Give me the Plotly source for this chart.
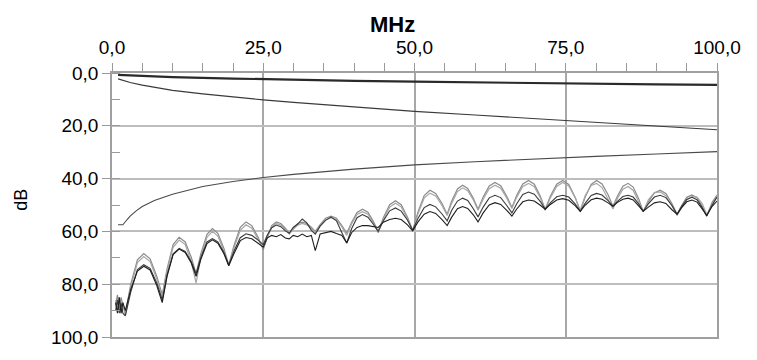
import plotly.graph_objects as go

# ---------------- data ----------------
freq_smooth1 = [1, 5, 10, 20, 30, 40, 50, 60, 70, 80, 90, 100]
loss_top = [0.7, 1.2, 1.6, 2.1, 2.6, 3.0, 3.3, 3.6, 3.9, 4.1, 4.3, 4.5]

freq_smooth2 = [1, 2, 3, 5, 7, 10, 15, 20, 25, 30, 40, 50, 60, 70, 75, 80, 90, 100]
loss_mid = [2.2, 3.0, 3.6, 4.6, 5.4, 6.6, 7.9, 9.1, 10.2, 11.1, 12.9, 14.5, 15.9, 17.3, 18.0, 18.7, 20.1, 21.5]

freq_limit = [1, 1.8, 2.5, 3, 4, 5, 7, 10, 15, 20, 25, 30, 40, 50, 60, 70, 80, 90, 100]
limit = [57.5, 57.5, 55.5, 54.2, 52.2, 50.6, 48.3, 45.9, 43.0, 41.1, 39.6, 38.4, 36.4, 34.8, 33.6, 32.5, 31.6, 30.7, 29.8]

freq = [0.6, 0.9, 1.2, 1.5, 1.8,
        2.2, 3.1, 4.2, 5.25, 6.3, 7.4,
        8.3, 9.1, 10.1, 11.1, 12.1, 13.1,
        13.9, 14.7, 15.7, 16.6, 17.5, 18.5,
        19.3, 20.15, 21.2, 22.15, 23.1, 24.15,
        25.0, 25.65, 26.4, 27.15, 27.9, 28.65,
        29.3, 29.95, 30.7, 31.45, 32.2, 32.95,
        33.6, 34.4, 35.3, 36.2, 37.1, 38.0,
        38.8, 39.6, 40.5, 41.4, 42.3, 43.2,
        44.0, 44.85, 45.9, 46.85, 47.8, 48.85,
        49.7, 50.55, 51.6, 52.55, 53.5, 54.55,
        55.4, 56.15, 57.1, 57.95, 58.8, 59.75,
        60.5, 61.35, 62.35, 63.3, 64.25, 65.25,
        66.1, 66.9, 67.9, 68.85, 69.8, 70.8,
        71.6, 72.45, 73.5, 74.5, 75.5, 76.55,
        77.4, 78.2, 79.2, 80.1, 81.0, 82.0,
        82.8, 83.55, 84.45, 85.3, 86.15, 87.05,
        87.8, 88.65, 89.65, 90.6, 91.55, 92.55,
        93.4, 94.15, 95.0, 95.85, 96.7, 97.55,
        98.3, 99.2, 100.0]

next_a = [88, 84, 89, 85, 88,
          91, 80, 70.8, 68.4, 70.4, 77,
          84, 74.2, 65, 62.2, 64, 69.8,
          76, 68.3, 61.1, 58.9, 60.7, 66.5,
          72.7, 65.4, 58.5, 56.4, 57.8, 62.2,
          67, 62.2, 57.8, 56.4, 57, 58.8,
          60.7, 58.8, 57, 56.5, 57, 58.4,
          60, 57.4, 55, 54.2, 55, 57.8,
          60.7, 56.6, 52.8, 51.6, 52.7, 56.2,
          60, 54.8, 49.9, 48.4, 49.9, 54.6,
          59.6, 52.8, 46.4, 44.4, 45.6, 49.4,
          53.5, 48.5, 43.9, 42.5, 43.7, 47.5,
          51.6, 47, 42.8, 41.5, 42.7, 46.7,
          50.9, 46.3, 42, 40.7, 42.1, 46.7,
          51.6, 46.7, 42.1, 40.7, 42.2, 47.1,
          52.4, 47.1, 42.2, 40.7, 42, 46.1,
          50.5, 46.6, 42.9, 41.8, 43.2, 47.6,
          52.4, 48.8, 45.4, 44.4, 45.6, 49.4,
          53.5, 50.2, 47.1, 46.2, 47.2, 50.6,
          54.2, 49, 46.2]

next_b = [86, 90, 85, 91, 87,
          92, 81, 71.8, 69.5, 71.4, 78,
          85, 75, 66, 63.3, 65, 71.5,
          79.6, 69.5, 62.2, 60, 61.8, 67.5,
          73, 66.3, 59.6, 57.5, 58.8, 63,
          66, 62.5, 58.3, 57, 57.6, 59.3,
          61, 59.2, 57.6, 57, 57.5, 58.8,
          60.5, 57.9, 55.6, 54.8, 55.6, 58.3,
          61.5, 57.2, 53.6, 52.5, 53.5, 56.8,
          60.5, 55.4, 50.8, 49.3, 50.7, 55.2,
          59.8, 53.5, 47.4, 45.5, 46.6, 50.2,
          54, 49.3, 44.9, 43.5, 44.6, 48.2,
          52, 47.8, 43.8, 42.5, 43.6, 47.4,
          51.3, 47, 43, 41.8, 43.1, 47.3,
          52, 47.3, 43, 41.5, 42.8, 47.2,
          52, 46.5, 42.6, 41.8, 43.4, 47.8,
          51.5, 47.5, 44, 43, 44.5, 48.8,
          52.6, 48, 45.3, 45, 46.5, 50.3,
          54, 51, 48, 46.8, 47, 49.5,
          53.5, 50.2, 46.5]

next_c = [90, 86, 91, 87, 91,
          92, 83, 74.5, 72.6, 74, 79.5,
          86, 76.5, 68.5, 66.4, 67.6, 71.5,
          76, 69.8, 64, 62.7, 64, 68,
          72.7, 67.5, 62.4, 60.9, 61.5, 63.3,
          65, 61.5, 58.6, 57.6, 58.2, 59.8,
          60.7, 58.5, 57.2, 55.3, 56.8, 59.6,
          61, 58, 55.8, 54.6, 56, 60.5,
          64.4, 59, 54.8, 53.6, 54.6, 57.3,
          60, 56, 52.2, 51.1, 52.3, 55.8,
          59.6, 55.2, 51, 49.8, 50.7, 53.4,
          56, 52, 48.5, 47.4, 48.3, 51.5,
          54.5, 50.8, 47.3, 46.3, 47.2, 50.2,
          53, 49.5, 46, 45.1, 45.9, 48.7,
          51.6, 49.2, 46.9, 46.3, 47, 49.6,
          52.4, 49.4, 46.4, 45.6, 46.2, 48.3,
          50.5, 48.6, 46.8, 46.3, 47, 49.6,
          52.4, 49.6, 47, 46.3, 47.2, 50.2,
          53.5, 50.6, 47.9, 47.1, 48, 51,
          54.2, 50, 47]

next_d = [87, 91, 85, 91, 87,
          90, 82, 75, 73.2, 74.6, 80.5,
          87, 77, 68.8, 66.7, 68, 72,
          77, 70.5, 64.6, 63.2, 64.5, 68.5,
          73, 68.5, 63.5, 62.3, 62.8, 64.5,
          66, 62.5, 61.5, 62, 61.2, 62.5,
          62.8, 61.5, 62, 61, 62, 61.5,
          67.3, 61, 60.5, 60, 60.8, 61.5,
          64.4, 60.5, 58.5, 57.8, 57.8, 58.3,
          58.5, 56.5, 55.5, 55, 55.5, 57.5,
          59.8, 56.5, 53.5, 52.5, 53.2, 55.5,
          57.8, 54.6, 51.4, 50.6, 51.3, 53.8,
          56.4, 53, 50, 49.1, 49.8, 52,
          54.2, 51.5, 48.8, 48.1, 48.5, 50.1,
          51.6, 49.8, 48.1, 47.6, 48.2, 50.2,
          52.4, 50.1, 48, 47.4, 47.8, 49.2,
          50.5, 49, 47.8, 47.4, 48.1, 50.3,
          52.4, 50.8, 49.2, 48.8, 49.4, 51.8,
          53.5, 51, 48.8, 48.1, 48.9, 51.5,
          54, 50.5, 48.5]

x_ticks = [0, 25, 50, 75, 100]
y_ticks = [0, 20, 40, 60, 80, 100]

# ---------------- figure ----------------
fig = go.Figure()

def add(x, y, color, width):
    fig.add_trace(go.Scatter(x=x, y=y, mode="lines",
                             line=dict(color=color, width=width),
                             showlegend=False, hoverinfo="skip"))

add(freq, next_a, "#8a8a8a", 1.2)
add(freq, next_b, "#a6a6a6", 1.2)
add(freq, next_c, "#3a3a3a", 1.1)
add(freq, next_d, "#1e1e1e", 1.1)
add(freq_limit, limit, "#4a4a4a", 1.1)
add(freq_smooth2, loss_mid, "#3a3a3a", 1.2)
add(freq_smooth1, loss_top, "#2a2a2a", 2.2)

font_family = "Liberation Sans, Arial, sans-serif"

L, R, T, B = 112, 40, 73, 12
W, H = 757, 360
pw, ph = W - L - R, H - T - B

def px_to_paper(xp, yp):
    return (xp - L) / pw, (H - B - yp) / ph

mhz_x, mhz_y = px_to_paper(392, 22)
db_x, db_y = px_to_paper(21, 205)

fig.update_layout(
    width=W, height=H,
    margin=dict(l=L, r=R, t=T, b=B),
    paper_bgcolor="white", plot_bgcolor="white",
    separators=",.",
    font=dict(family=font_family, color="black", size=18),
    xaxis=dict(
        side="top", range=[0, 100], tickvals=x_ticks, tickformat=".1f",
        ticks="outside", ticklen=8, tickcolor="#999999", tickwidth=1,
        showline=True, linecolor="#a0a0a0", linewidth=1.5, mirror=True,
        showgrid=True, gridcolor="#a8a8a8", gridwidth=1.5,
        zeroline=False,
        minor=dict(dtick=5, tick0=0, ticks="outside", ticklen=8,
                   tickcolor="#999999", showgrid=False),
        tickfont=dict(size=19),
        ticklabelstandoff=2,
    ),
    yaxis=dict(
        range=[100, 0], tickvals=y_ticks, tickformat=".1f",
        ticks="outside", ticklen=8, tickcolor="#999999", tickwidth=1,
        showline=True, linecolor="#a0a0a0", linewidth=1.5, mirror=True,
        showgrid=True, gridcolor="#bdbdbd", gridwidth=2,
        zeroline=False,
        minor=dict(dtick=10, tick0=0, ticks="inside", ticklen=8,
                   tickcolor="#999999", showgrid=False),
        tickfont=dict(size=19),
    ),
    annotations=[
        dict(text="<b>MHz</b>", x=mhz_x, y=mhz_y, xref="paper", yref="paper",
             xanchor="center", yanchor="middle",
             showarrow=False, font=dict(size=22)),
        dict(text="dB", x=db_x, y=db_y, xref="paper", yref="paper",
             xanchor="center", yanchor="middle",
             showarrow=False, textangle=-90, font=dict(size=18)),
    ],
)

fig.write_html("out.html")
